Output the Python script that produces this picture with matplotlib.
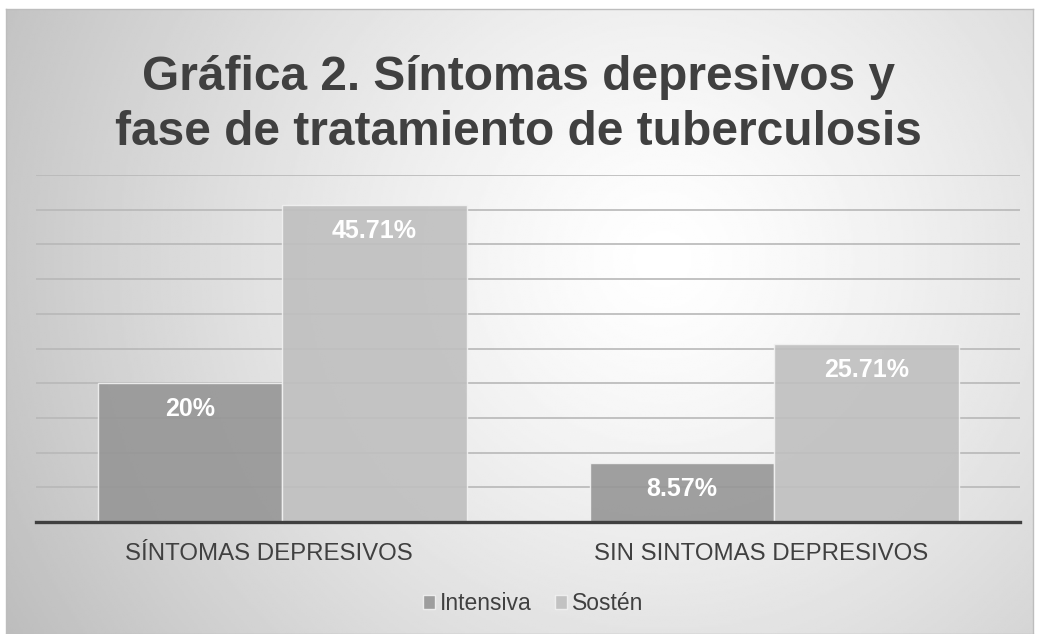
import numpy as np
import matplotlib
matplotlib.use("Agg")
import matplotlib.pyplot as plt
import matplotlib.transforms as mtrans

plt.rcParams['font.family'] = ['Liberation Sans', 'DejaVu Sans']

# data
categorias = ['SÍNTOMAS DEPRESIVOS', 'SIN SINTOMAS DEPRESIVOS']
intensiva = [20, 8.57]
sosten = [45.71, 25.71]
etiquetas_int = ['20%', '8.57%']
etiquetas_sos = ['45.71%', '25.71%']
series = ['Intensiva', 'Sostén']

W, H = 1037, 634
fig = plt.figure(figsize=(W / 100, H / 100), dpi=100)
fig.patch.set_facecolor('white')

# background panel with radial gradient
bg = fig.add_axes([6 / W, 0, (1033 - 6) / W, 1 - 9 / H])
yy, xx = np.mgrid[0:1:300j, 0:1:500j]
r = np.sqrt(((xx - 0.64) * 1.6) ** 2 + ((yy - 0.6) * 1.0) ** 2)
r = r / r.max()
g = 1.0 - 0.26 * np.clip(r, 0, 1) ** 1.3
bg.imshow(g, cmap='gray', vmin=0, vmax=1, extent=[0, 1, 0, 1], aspect='auto', origin='lower')
bg.set_xlim(0, 1)
bg.set_ylim(0, 1)
bg.set_xticks([])
bg.set_yticks([])
for s in bg.spines.values():
    s.set_color('#bdbdbd')
    s.set_linewidth(1)

ax = fig.add_axes([36 / W, 1 - 522 / H, (1020 - 36) / W, (522 - 175) / H])
ax.patch.set_alpha(0)
x = np.arange(len(categorias))
w = 0.375
ax.set_xlim(-0.5, 1.5)
ax.set_ylim(0, 50)
for v in np.arange(5, 51, 5):
    ax.axhline(v, color='#b8b8b8', lw=1.2, zorder=1)

b1 = ax.bar(x - w / 2, intensiva, w, color='#969696', alpha=0.9, edgecolor='#f2f2f2', lw=1, zorder=2, label=series[0])
b2 = ax.bar(x + w / 2, sosten, w, color='#bfbfbf', alpha=0.9, edgecolor='#f2f2f2', lw=1, zorder=2, label=series[1])

for xi, v, t in zip(x - w / 2, intensiva, etiquetas_int):
    ax.annotate(t, (xi, v), xytext=(0, -26), textcoords='offset pixels', ha='center', va='center',
                color='white', fontsize=18, fontweight='bold', zorder=3)
for xi, v, t in zip(x + w / 2, sosten, etiquetas_sos):
    ax.annotate(t, (xi, v), xytext=(0, -26), textcoords='offset pixels', ha='center', va='center',
                color='white', fontsize=18, fontweight='bold', zorder=3)

for s in ['top', 'right', 'left']:
    ax.spines[s].set_visible(False)
ax.spines['bottom'].set_color('#404040')
ax.spines['bottom'].set_linewidth(2.4)
ax.spines['bottom'].set_zorder(4)
ax.set_yticks([])
ax.set_xticks(x)
ax.set_xticklabels(categorias, fontsize=17.3, color='#404040')
ax.tick_params(axis='x', length=0, pad=15)
shift = mtrans.ScaledTranslation(-13 / 100, 0, fig.dpi_scale_trans)
for lbl in ax.get_xticklabels():
    lbl.set_transform(lbl.get_transform() + shift)

fig.text(518 / W, 1 - 105 / H, 'Gráfica 2. Síntomas depresivos y\nfase de tratamiento de tuberculosis',
         ha='center', va='center', fontsize=34.5, fontweight='bold', color='#404040', linespacing=1.28)

leg = fig.legend(handles=[b1, b2], labels=series, loc='center', bbox_to_anchor=(533 / W, 1 - 604 / H),
                 ncol=2, frameon=False, fontsize=16.5, handlelength=0.55, handleheight=0.55,
                 handletextpad=0.2, columnspacing=1.0)
for t in leg.get_texts():
    t.set_color('#404040')

fig.savefig('out.png', dpi=100)
